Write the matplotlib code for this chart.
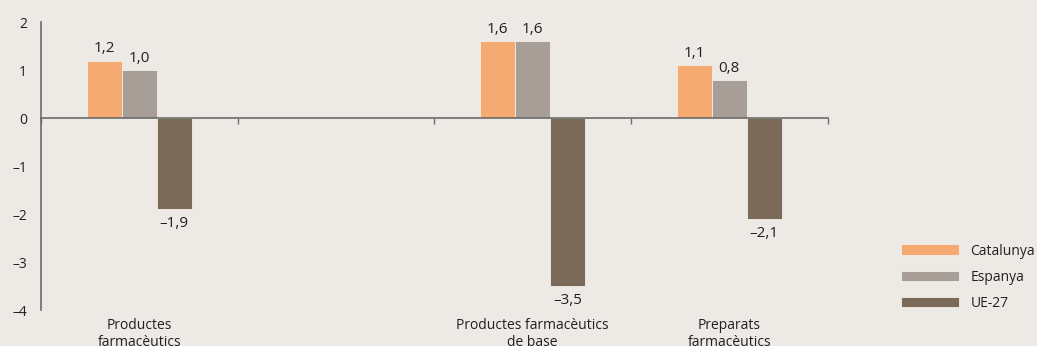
import numpy as np
import matplotlib.pyplot as plt
from matplotlib.patches import Patch
from matplotlib.transforms import blended_transform_factory

plt.rcParams['font.family'] = ['Open Sans', 'DejaVu Sans']

categories = ["Productes\nfarmacèutics", "", "Productes farmacèutics\nde base", "Preparats\nfarmacèutics"]
catalunya = [1.2, np.nan, 1.6, 1.1]
espanya = [1.0, np.nan, 1.6, 0.8]
ue27 = [-1.9, np.nan, -3.5, -2.1]
series_names = ["Catalunya", "Espanya", "UE-27"]
colors = ["#F5AA71", "#A69E97", "#7B6A57"]
bg = "#EDEAE6"
txt = "#231F20"

def fmt(v):
    s = f"{v:.1f}".replace(".", ",")
    return s.replace("-", "\u2013")

fig = plt.figure(figsize=(10.37, 3.46), dpi=100, facecolor=bg)
ax = fig.add_axes([0.0395, 0.104, 0.7585, 0.832], facecolor=bg)

x = np.arange(len(categories)) + 0.5
w = 0.178
for i, (vals, c) in enumerate(zip([catalunya, espanya, ue27], colors)):
    xs = x + (i - 1) * w
    ax.bar(xs, vals, width=w, color=c, edgecolor="#F3EFEA", linewidth=0.6)
    for xi, v in zip(xs, vals):
        if np.isnan(v):
            continue
        if v >= 0:
            ax.annotate(fmt(v), (xi, v), xytext=(0, 3), textcoords="offset points",
                        ha="center", va="bottom", fontsize=11, color=txt)
        else:
            ax.annotate(fmt(v), (xi, v), xytext=(0, -5), textcoords="offset points",
                        ha="center", va="top", fontsize=11, color=txt)

ax.set_xlim(0, len(categories))
ax.set_ylim(-4, 2)
ax.set_yticks(range(-4, 3))
ax.set_yticklabels([str(t).replace("-", "\u2013") for t in range(-4, 3)], fontsize=10, color=txt)
ax.tick_params(axis="y", length=0, pad=10)
ax.set_xticks(range(len(categories) + 1))
ax.set_xticklabels([])
ax.tick_params(axis="x", direction="out", length=4, color="#6B6B6B", width=1)

for s in ["top", "right"]:
    ax.spines[s].set_visible(False)
ax.spines["bottom"].set_position(("data", 0))
for s in ["left", "bottom"]:
    ax.spines[s].set_color("#6B6B6B")
    ax.spines[s].set_linewidth(1.2)

tr = blended_transform_factory(ax.transData, ax.transAxes)
for xi, lab in zip(x, categories):
    ax.annotate(lab, (xi, 0), xycoords=tr, xytext=(0, -6), textcoords="offset points",
                ha="center", va="top", fontsize=10, color=txt, linespacing=1.15,
                annotation_clip=False)

handles = [Patch(facecolor=c, edgecolor="#F3EFEA", linewidth=0.6) for c in colors]
fig.legend(handles, series_names, loc="center left", bbox_to_anchor=(0.862, 0.199),
           frameon=False, fontsize=10, handlelength=4.2, handleheight=0.8,
           handletextpad=0.8, labelspacing=0.8, borderpad=0, labelcolor=txt)

fig.savefig("out.png", dpi=100, facecolor=bg)
